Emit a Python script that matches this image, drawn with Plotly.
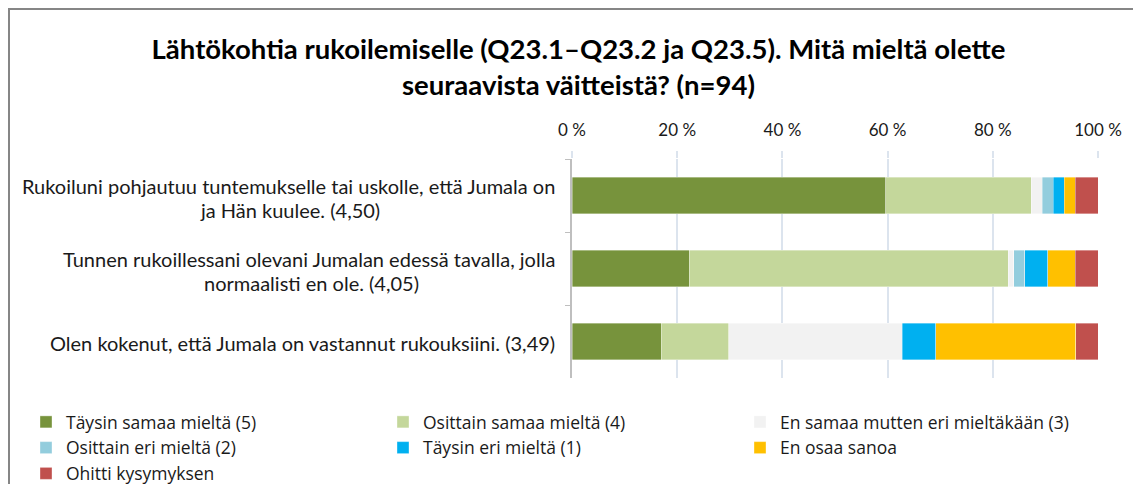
import plotly.graph_objects as go

categories = [
    "Rukoiluni pohjautuu tuntemukselle tai uskolle, että Jumala on<br>ja Hän kuulee. (4,50)",
    "Tunnen rukoillessani olevani Jumalan edessä tavalla, jolla<br>normaalisti en ole. (4,05)",
    "Olen kokenut, että Jumala on vastannut rukouksiini. (3,49)",
]
series_names = [
    "Täysin samaa mieltä (5)",
    "Osittain samaa mieltä (4)",
    "En samaa mutten eri mieltäkään (3)",
    "Osittain eri mieltä (2)",
    "Täysin eri mieltä (1)",
    "En osaa sanoa",
    "Ohitti kysymyksen",
]
taysin_samaa = [59.6, 22.3, 17.0]
osittain_samaa = [27.7, 60.6, 12.8]
neutraali = [2.1, 1.1, 33.0]
osittain_eri = [2.1, 2.1, 0.0]
taysin_eri = [2.1, 4.3, 6.4]
en_osaa = [2.1, 5.3, 26.6]
ohitti = [4.3, 4.3, 4.2]
series_values = [taysin_samaa, osittain_samaa, neutraali, osittain_eri, taysin_eri, en_osaa, ohitti]
colors = ["#77933C", "#C4D79B", "#F2F2F2", "#93CDDD", "#00B0F0", "#FFC000", "#C0504D"]
x_ticks = [0, 20, 40, 60, 80, 100]
x_tick_labels = ["0 %", "20 %", "40 %", "60 %", "80 %", "100 %"]

# page body adds an 8px offset, so the figure is 8px smaller than the window
W, H = 1133, 476
ML, MR, MT, MB = 564, 43, 151, 106
FONT = "Lato, Open Sans, Arial"
pw, ph = W - ML - MR, H - MT - MB
LABEL_RIGHT = 549          # right edge of the label block (figure px)
LABEL_CENTERS = [281.5, 303, None]

fig = go.Figure()
for name, vals, col in zip(series_names, series_values, colors):
    fig.add_trace(go.Bar(
        y=categories, x=vals, name=name, orientation="h",
        marker=dict(color=col, line=dict(color="rgba(255,255,255,0.6)", width=0.6)),
        hoverinfo="x+name",
    ))

for cat, cx in zip(categories, LABEL_CENTERS):
    lines = cat.split("<br>")
    if len(lines) == 1:
        fig.add_annotation(
            x=(LABEL_RIGHT - ML) / pw, xref="paper", y=cat, yref="y", text=lines[0],
            showarrow=False, xanchor="right", yshift=-1,
            font=dict(family=FONT, size=20, color="#1a1a1a"),
        )
    else:
        fig.add_annotation(
            x=(LABEL_RIGHT - ML) / pw, xref="paper", y=cat, yref="y", text=lines[0],
            showarrow=False, xanchor="right", yshift=10,
            font=dict(family=FONT, size=20, color="#1a1a1a"),
        )
        fig.add_annotation(
            x=(cx - ML) / pw, xref="paper", y=cat, yref="y", text=lines[1],
            showarrow=False, xanchor="center", yshift=-14,
            font=dict(family=FONT, size=20, color="#1a1a1a"),
        )

fig.add_shape(
    type="rect", xref="paper", yref="paper",
    x0=(1 - ML) / pw, x1=(1132 - ML) / pw,
    y0=(H - MB - 560) / ph, y1=(H - MB - 1) / ph,
    line=dict(color="#868686", width=2), fillcolor="rgba(0,0,0,0)", layer="below",
)

fig.update_layout(
    width=W, height=H, barmode="stack", bargap=0.5,
    margin=dict(l=ML, r=MR, t=MT, b=MB, autoexpand=False),
    paper_bgcolor="white", plot_bgcolor="white",
    font=dict(family=FONT, size=17, color="#1a1a1a"),
    title=dict(
        text="<b>Lähtökohtia rukoilemiselle (Q23.1–Q23.2 ja Q23.5). Mitä mieltä olette<br>seuraavista väitteistä? (n=94)</b>",
        x=0.5035, xanchor="center", y=1 - 51 / H, yanchor="top", yref="container",
        font=dict(family=FONT, size=27.5, color="#000000"),
    ),
    xaxis=dict(
        side="top", range=[0, 100], tickvals=x_ticks, ticktext=x_tick_labels,
        showgrid=True, gridcolor="#DCE4EE", gridwidth=1.5, zeroline=False,
        showline=False, ticks="outside", ticklen=7, tickcolor="#DCE4EE", tickwidth=1.5,
        ticklabelstandoff=8,
        tickfont=dict(size=17, color="#1a1a1a"),
        fixedrange=True, automargin=False,
    ),
    yaxis=dict(
        autorange="reversed", showticklabels=False, showline=True,
        linecolor="#BFBFBF", linewidth=1.5, ticks="outside", tickson="boundaries",
        ticklen=5, tickcolor="#BFBFBF", showgrid=False, fixedrange=True, automargin=False,
    ),
    legend=dict(
        orientation="h", xref="paper", yref="paper",
        x=(18 - ML) / pw, xanchor="left", y=(H - MB - 396) / ph, yanchor="top",
        entrywidth=312, entrywidthmode="pixels", traceorder="normal",
        font=dict(family="Open Sans, Lato, Arial", size=17.5, color="#1a1a1a"),
        itemwidth=30, tracegroupgap=0,
    ),
    showlegend=True,
)

fig.write_html("out.html")
